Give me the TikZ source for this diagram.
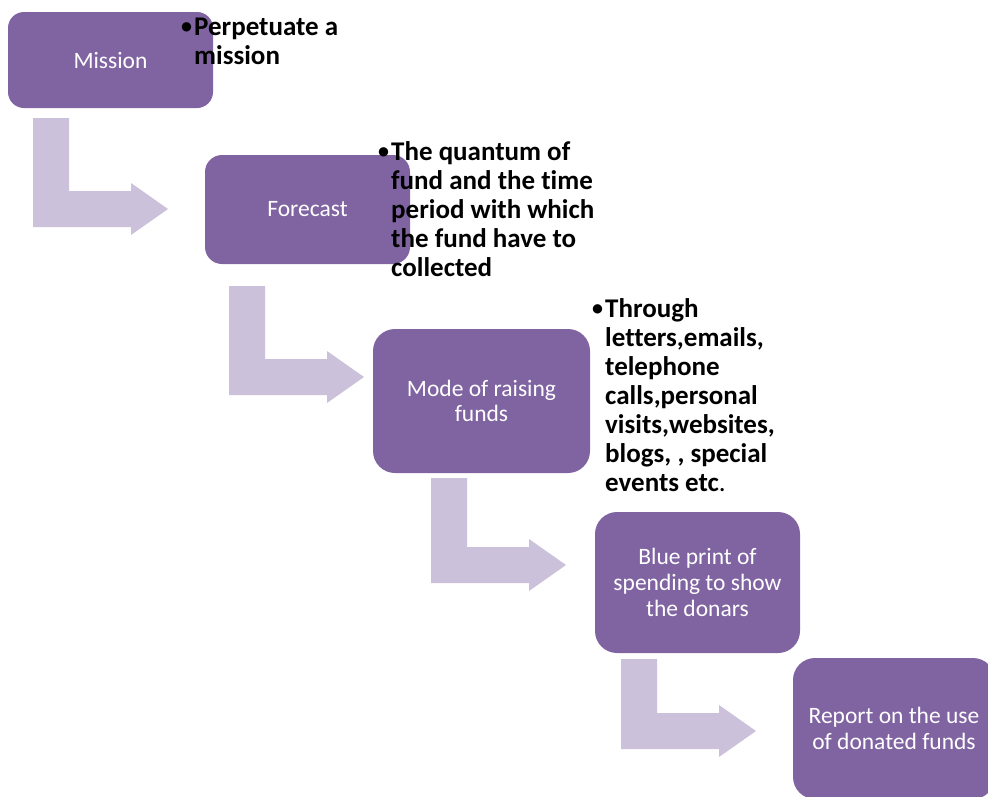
\documentclass[tikz,border=0pt]{standalone}
\usepackage{fontspec}
\setmainfont{Carlito}[Ligatures={NoCommon}, Contextuals={NoAlternate}]

\definecolor{stagefill}{HTML}{8064A2}
\definecolor{bendfill}{HTML}{CCC1DA}

\tikzset{
  stage/.style={fill=stagefill, text=white, inner sep=0pt, align=center,
    font=\fontsize{23.5}{25.8}\selectfont},
  note/.style={anchor=north west, inner sep=0pt, align=left, text=black,
    font=\bfseries\fontsize{27}{29}\selectfont},
  bendshape/.style={fill=bendfill}
}

% hanging bullet in front of a note
\newcommand\notebullet{\llap{\raisebox{1.5pt}{\fontsize{22}{22}\selectfont •}\kern2pt}}

% L-shaped block arrow: #1 left x, #2 top y, #3 bottom y of the horizontal run
\newcommand\bentarrow[3]{%
  \fill[bendshape] (#1,#2) -- (#1+36,#2) -- (#1+36,#3-36) -- (#1+98,#3-36)
    -- (#1+98,#3-44) -- (#1+135,#3-18) -- (#1+98,#3+8) -- (#1+98,#3)
    -- (#1,#3) -- cycle;}

\begin{document}
\begin{tikzpicture}[x=1pt,y=-1pt]
  \useasboundingbox (0,0) rectangle (988,796);
  \clip (0,0) rectangle (988,796);

  % bent arrows between the stages
  \bentarrow{33}{118}{227}
  \bentarrow{229}{286}{395}
  \bentarrow{431}{478}{583}
  \bentarrow{621}{659}{749}

  % stages
  \node[stage, minimum width=205pt, minimum height=96pt, rounded corners=16pt]
    (mission) at (110.5,60) {Mission};
  \node[stage, minimum width=205pt, minimum height=109pt, rounded corners=17pt]
    (forecast) at (307.5,209.5) {Forecast};
  \node[stage, minimum width=217pt, minimum height=144pt, rounded corners=22pt]
    (mode) at (481.5,401) {Mode of raising\\funds};
  \node[stage, minimum width=205pt, minimum height=141pt, rounded corners=22pt]
    (blueprint) at (697.5,582.5) {Blue print of\\spending to show\\the donars};
  \node[stage, minimum width=202pt, minimum height=141pt, rounded corners=22pt]
    (report) at (894,728.5) {Report on the use\\of donated funds};

  % bullet notes
  \node[note] (missionnote) at (194,14.7)
    {\strut\notebullet Perpetuate a\\mission};
  \node[note] (forecastnote) at (391,139.7)
    {\strut\notebullet The quantum of\\fund and the time\\period with which\\the fund have to\\collected};
  \node[note] (modenote) at (605,296.7)
    {\strut\notebullet Through\\letters,emails,\\telephone\\calls,personal\\visits,websites,\\blogs, , special\\events etc{\mdseries .}};
\end{tikzpicture}
\end{document}
